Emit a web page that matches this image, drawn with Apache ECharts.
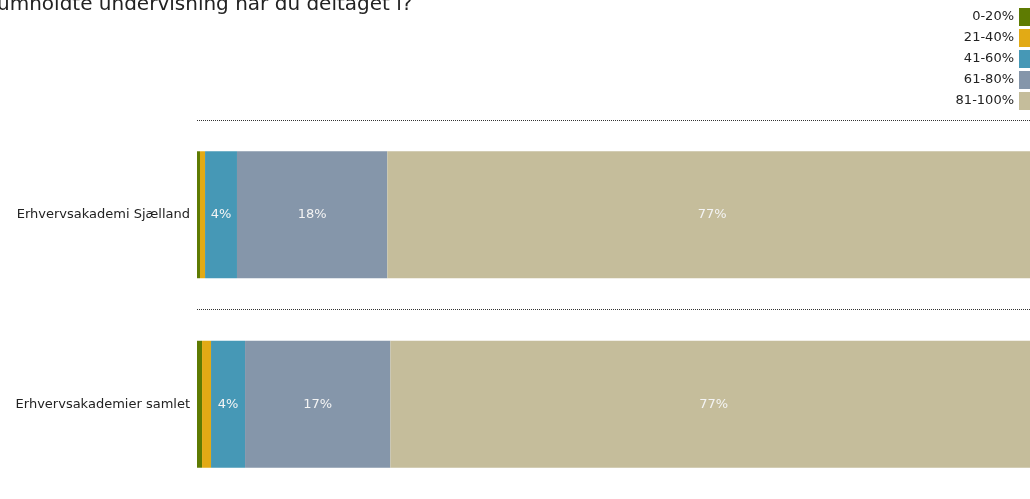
<!DOCTYPE html>
<html>
<head>
<meta charset="utf-8">
<script src="https://cdn.jsdelivr.net/npm/echarts@6/dist/echarts.min.js"></script>
<style>
html,body{margin:0;padding:0;background:#fff;overflow:hidden;}
#chart{width:1037px;height:499px;}
</style>
</head>
<body>
<div id="chart"></div>
<script>
const titleText = "umholdte undervisning har du deltaget i?";
const categories = ["Erhvervsakademi Sjælland", "Erhvervsakademier samlet"];
const seriesNames = ["0-20%", "21-40%", "41-60%", "61-80%", "81-100%"];
const seriesColors = ["#5e7b02", "#e2aa15", "#4698b6", "#8596aa", "#c5bd9b"];
// values per series, in category order
const v0_20 = [0.36, 0.6];
const v21_40 = [0.6, 1.07];
const v41_60 = [3.8, 4.05];
const v61_80 = [17.9, 17.3];
const v81_100 = [77.4, 77.0];
const seriesValues = [v0_20, v21_40, v41_60, v61_80, v81_100];

const font = "'DejaVu Sans', Verdana, sans-serif";
const chart = echarts.init(document.getElementById('chart'), null, {renderer: 'canvas'});
chart.setOption({
  animation: false,
  title: {
    text: titleText,
    left: -3,
    top: -5,
    padding: 0,
    textStyle: {fontFamily: font, fontSize: 20, fontWeight: 'normal', color: '#222'}
  },
  legend: {
    orient: 'vertical',
    right: 0,
    top: 8,
    padding: 0,
    align: 'right',
    itemWidth: 18,
    itemHeight: 18,
    itemGap: 3,
    icon: 'rect',
    selectedMode: false,
    textStyle: {fontFamily: font, fontSize: 13, color: '#222'},
    data: seriesNames
  },
  grid: {left: 197, right: 0, top: 120, height: 382, containLabel: false},
  xAxis: {
    type: 'value', min: 0, max: 100, show: false
  },
  yAxis: {
    type: 'category',
    data: categories,
    inverse: true,
    axisLine: {show: false},
    axisTick: {show: false},
    axisLabel: {fontFamily: font, fontSize: 13, color: '#222', margin: 7},
    splitLine: {show: true, lineStyle: {color: '#333', width: 1, type: [1, 1]}}
  },
  series: seriesNames.map((name, i) => ({
    name: name,
    type: 'bar',
    stack: 'total',
    barCategoryGap: '33%',
    data: seriesValues[i],
    itemStyle: {color: seriesColors[i]},
    label: {
      show: true,
      position: 'inside',
      fontFamily: font,
      fontSize: 13,
      color: '#f4f4f4',
      formatter: p => p.value >= 2 ? Math.round(p.value) + '%' : ''
    }
  }))
});
</script>
</body>
</html>
